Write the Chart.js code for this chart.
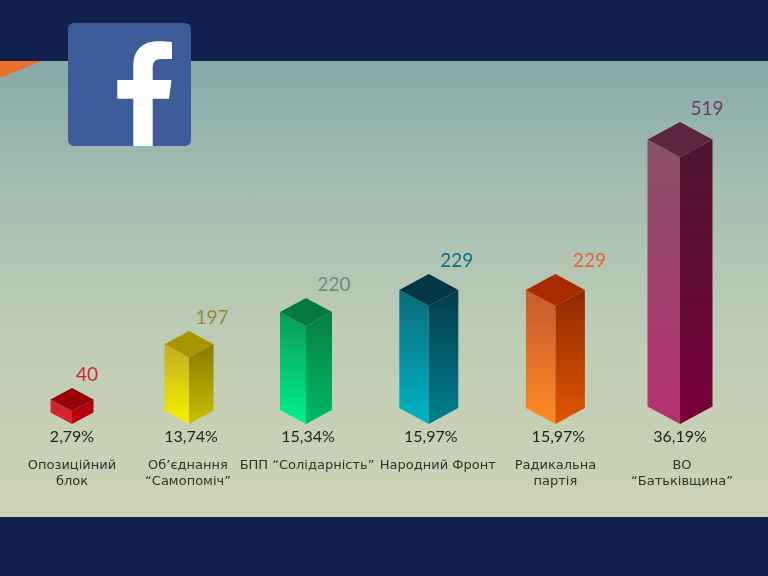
<!DOCTYPE html>
<html lang="uk">
<head>
<meta charset="utf-8">
<title>Facebook</title>
<script src="https://cdn.jsdelivr.net/npm/chart.js@4"></script>
<style>
  html, body { margin: 0; padding: 0; width: 768px; height: 576px; overflow: hidden; background: #12214f; }
  #panel {
    position: absolute; left: 0; top: 61px; width: 768px; height: 456px;
    background: linear-gradient(180deg, #87aaa9 0%, #a6bfb1 30%, #bfcdb5 62%, #cdd3b5 100%);
  }
  #chart { position: absolute; left: 0; top: 0; }
  #deco { position: absolute; left: 0; top: 0; }
</style>
</head>
<body>
<div id="panel"></div>
<canvas id="chart" width="768" height="576"></canvas>
<svg id="deco" width="768" height="576">
  <polygon points="0,61 42,61 0,78" fill="#e8702a"/>
  <rect x="68" y="23" width="123" height="123" rx="6" fill="#3f5c9a"/>
  <path d="M133.3 146 V98.7 H117.3 V80 H133.3 V66 C133.3 50 143 41.3 158 41.3 C164 41.3 169 41.6 172 42 V59 H162 C155 59 152.7 62 152.7 68 V80 H171.5 L169 98.7 H152.7 V146 Z" fill="#fff"/>
</svg>
<script>
const parties = [
  ['Опозиційний', 'блок'],
  ['Об’єднання', '“Самопоміч”'],
  ['БПП “Солідарність”'],
  ['Народний Фронт'],
  ['Радикальна', 'партія'],
  ['ВО', '“Батьківщина”']
];
const seats = [40, 197, 220, 229, 229, 519];
const shares = ['2,79%', '13,74%', '15,34%', '15,97%', '15,97%', '36,19%'];
// the drawn columns are not proportional to the seats, so heights are read off the picture
const barHeights = [36, 93, 126, 150, 150, 302];

// look of each column, not data
const prismWidths = [43, 49, 52, 59, 59, 65];
const centerNudge = [0, -4.6, -9.2, -8, -3, 0];
const faceColors = [
  { top: '#960208', left: ['#c42a30', '#e6202c'], right: ['#a60208', '#c20810'] },
  { top: '#a89500', left: ['#c4ab22', '#f7f200'], right: ['#8a7900', '#c9c000'] },
  { top: '#067a3c', left: ['#0a9a5c', '#00f08f'], right: ['#087f40', '#00b96a'] },
  { top: '#033746', left: ['#0a6a7a', '#00b5c5'], right: ['#043c4a', '#008091'] },
  { top: '#a82a00', left: ['#c45a30', '#ff8a25'], right: ['#8e2a00', '#e05500'] },
  { top: '#5c2540', left: ['#8a5068', '#b53070'], right: ['#4e1630', '#780038'] }
];
const seatColors = ['#d0203a', '#8d8a3a', '#5f8f78', '#0f6f80', '#e8603a', '#6b3a6b'];
const seatOffsets = [15, 23, 28, 28, 34, 27];
const shareNudge = [0, 2, 2, 2, 3, 0];
const partyNudge = [0, -1, 1, 9, 0, 2];

function vGrad(ctx, y0, y1, colors) {
  const g = ctx.createLinearGradient(0, y0, 0, y1);
  g.addColorStop(0, colors[0]);
  g.addColorStop(1, colors[1]);
  return g;
}

function face(ctx, pts, fill) {
  ctx.beginPath();
  pts.forEach((p, i) => (i ? ctx.lineTo(p[0], p[1]) : ctx.moveTo(p[0], p[1])));
  ctx.closePath();
  ctx.fillStyle = fill;
  ctx.fill();
}

const prismPlugin = {
  id: 'prisms',
  afterDatasetsDraw(chart) {
    const ctx = chart.ctx;
    chart.getDatasetMeta(0).data.forEach((bar, i) => {
      const cx = bar.x + centerNudge[i];
      const half = prismWidths[i] / 2;
      const rise = prismWidths[i] * 0.27;
      const apex = bar.y;
      const tip = bar.base;
      const l = cx - half, r = cx + half;
      const c = faceColors[i];
      // faces come from the bar element, so they follow the y scale
      face(ctx, [[l, apex + rise], [cx, apex + rise * 2], [cx, tip], [l, tip - rise]],
        vGrad(ctx, apex + rise, tip, c.left));
      face(ctx, [[r, apex + rise], [cx, apex + rise * 2], [cx, tip], [r, tip - rise]],
        vGrad(ctx, apex + rise, tip, c.right));
      face(ctx, [[cx, apex], [r, apex + rise], [cx, apex + rise * 2], [l, apex + rise]], c.top);

      ctx.textAlign = 'center';
      ctx.textBaseline = 'middle';
      ctx.font = '19px Lato';
      ctx.fillStyle = seatColors[i];
      ctx.fillText(String(seats[i]), cx + seatOffsets[i], apex - 13);

      ctx.font = '16px Lato';
      ctx.fillStyle = '#1e211b';
      ctx.fillText(shares[i], cx + shareNudge[i], 437);

      ctx.font = '13px "DejaVu Sans"';
      ctx.fillStyle = '#30352c';
      parties[i].forEach((line, n) => {
        ctx.fillText(line, cx + partyNudge[i], 465.5 + n * 16);
      });
    });
  }
};

new Chart(document.getElementById('chart'), {
  type: 'bar',
  data: {
    labels: parties,
    datasets: [{
      label: 'Facebook',
      data: barHeights,
      backgroundColor: 'transparent',
      borderWidth: 0
    }]
  },
  options: {
    responsive: false,
    animation: false,
    layout: { padding: { left: 11.2, right: 27.2, top: 104, bottom: 152 } },
    plugins: {
      legend: { display: false },
      tooltip: { enabled: false }
    },
    scales: {
      x: { display: false },
      y: { display: false, min: 0, max: 320 }
    }
  },
  plugins: [prismPlugin]
});
</script>
</body>
</html>
